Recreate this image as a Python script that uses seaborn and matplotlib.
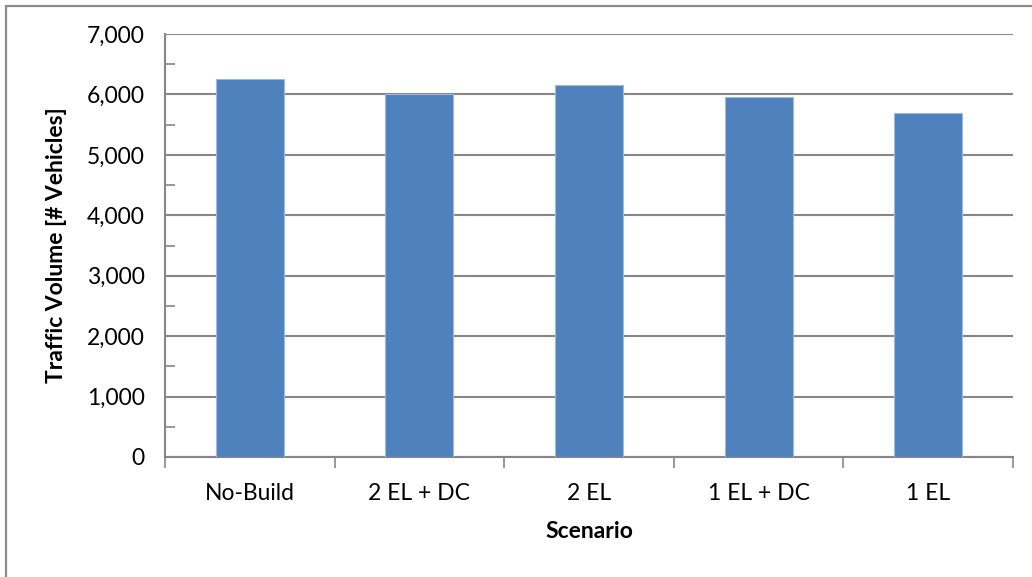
import matplotlib
matplotlib.use("Agg")
import matplotlib.pyplot as plt
import matplotlib.lines as mlines
from matplotlib.ticker import MultipleLocator, FuncFormatter
import seaborn as sns
import pandas as pd

scenarios = ["No-Build", "2 EL + DC", "2 EL", "1 EL + DC", "1 EL"]
volumes = [6250, 6000, 6150, 5950, 5700]

df = pd.DataFrame({"Scenario": scenarios, "Volume": volumes})

sns.set_style("white")
plt.rcParams["font.family"] = ["Lato", "DejaVu Sans"]
plt.rcParams["text.color"] = "black"
plt.rcParams["axes.labelcolor"] = "black"
plt.rcParams["xtick.labelcolor"] = "black"
plt.rcParams["ytick.labelcolor"] = "black"

fig = plt.figure(figsize=(10.32, 5.77), dpi=100)
ax = fig.add_axes([0.1599, 0.208, 0.8217, 0.733])

grid_c = "#868686"
sns.barplot(data=df, x="Scenario", y="Volume", color="#4F81BD", width=0.4,
            saturation=1, edgecolor="#9DB9E0", linewidth=0.8, ax=ax, zorder=3)

ax.set_xlim(-0.5, len(scenarios) - 0.5)
ax.set_ylim(0, 7000)
ax.yaxis.set_major_locator(MultipleLocator(1000))
ax.yaxis.set_minor_locator(MultipleLocator(500))
ax.yaxis.set_major_formatter(FuncFormatter(lambda v, p: f"{int(v):,}"))
ax.grid(axis="y", which="major", color=grid_c, linewidth=1.5, zorder=0)
ax.set_axisbelow(True)

for s in ["top", "right"]:
    ax.spines[s].set_visible(False)
for s in ["left", "bottom"]:
    ax.spines[s].set_color(grid_c)
    ax.spines[s].set_linewidth(1.5)

tick_fs = 16.5
ax.tick_params(axis="y", which="major", direction="inout", length=15, width=1.2,
               color=grid_c, labelsize=tick_fs, pad=7)
ax.tick_params(axis="y", which="minor", direction="in", length=7, width=1.2,
               color=grid_c, left=True)
# category boundary ticks on the x axis
ax.set_xticks(range(len(scenarios)))
ax.set_xticklabels(scenarios)
ax.tick_params(axis="x", which="major", length=0, labelsize=tick_fs, pad=19)
ax.set_xticks([i - 0.5 for i in range(len(scenarios) + 1)], minor=True)
ax.tick_params(axis="x", which="minor", direction="out", length=8, width=1.2,
               color=grid_c, bottom=True)

ax.set_xlabel("Scenario", fontsize=tick_fs, fontweight="bold", labelpad=12)
ax.set_ylabel("Traffic Volume [# Vehicles]", fontsize=tick_fs, fontweight="bold", labelpad=14)

# chart-area frame on the left and top edges
fig.add_artist(mlines.Line2D([5.5 / 1032, 5.5 / 1032], [0, 1 - 5.5 / 577],
                             color="#8C8C8C", linewidth=1.6, transform=fig.transFigure))
fig.add_artist(mlines.Line2D([5.5 / 1032, 1], [1 - 5.5 / 577, 1 - 5.5 / 577],
                             color="#8C8C8C", linewidth=1.6, transform=fig.transFigure))

fig.savefig("out.png", dpi=100, facecolor="white")
